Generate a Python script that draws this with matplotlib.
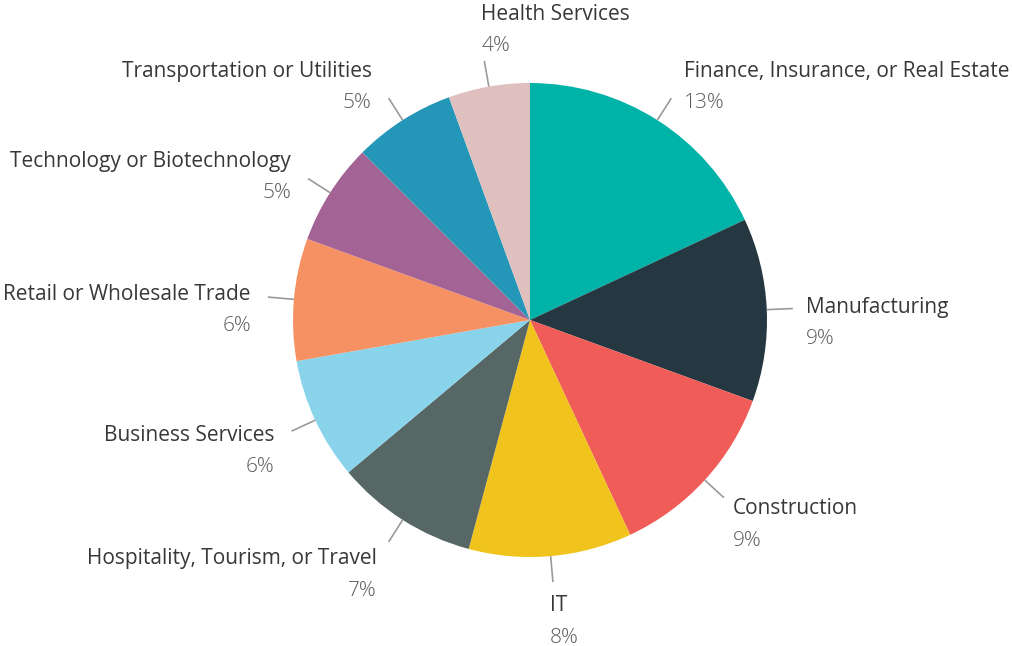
import numpy as np
import matplotlib
matplotlib.use('Agg')
import matplotlib.pyplot as plt

matplotlib.rcParams['font.family'] = ['Open Sans', 'DejaVu Sans']

# 行业分布（图上标注的百分比）
labels = ['Finance, Insurance, or Real Estate', 'Manufacturing', 'Construction', 'IT',
          'Hospitality, Tourism, or Travel', 'Business Services', 'Retail or Wholesale Trade',
          'Technology or Biotechnology', 'Transportation or Utilities', 'Health Services']
pcts = [13, 9, 9, 8, 7, 6, 6, 5, 5, 4]
colors = ['#00B3A8', '#253740', '#F05D58', '#F0C41C', '#566766',
          '#89D4EA', '#F69163', '#A36495', '#2496B8', '#DFC0BF']

W, H = 1013, 646
CX, CY, R = 530, 326, 237


def main():
    fig = plt.figure(figsize=(W / 100, H / 100), dpi=100)
    ax = fig.add_axes([0, 0, 1, 1])
    wedges, _ = ax.pie(pcts, colors=colors, startangle=90, counterclock=False,
                       center=(CX, CY), radius=R, wedgeprops=dict(linewidth=0))
    ax.set_xlim(0, W); ax.set_ylim(0, H); ax.set_aspect('equal')
    ax.axis('off')

    for w, name, p in zip(wedges, labels, pcts):
        ang = np.deg2rad((w.theta1 + w.theta2) / 2)
        c, s = np.cos(ang), np.sin(ang)
        x0, y0 = CX + R * c, CY + R * s
        x1, y1 = CX + R * 1.11 * c, CY + R * 1.11 * s
        ax.plot([x0, x1], [y0, y1], color='#9a9a9a', lw=1.2, solid_capstyle='butt')

        # 标签块位置：上方标签往上抬，下方标签往下压
        off = 32 * s if s > 0 else -24 * s * s
        if abs(c) < 0.25:
            ha, tx = 'left', x1 - 3
            if s > 0:
                off += 15
        elif c > 0:
            ha, tx = 'left', x1 + (13 if s > -0.5 else 9)
        else:
            ha, tx = 'right', x1 - (17 if s > -0.5 else 12)
        ny = y1 + off
        ax.text(tx, ny, name, ha=ha, va='center', fontsize=15, color='#383838')
        ax.text(tx, ny - 32, f'{p}%', ha=ha, va='center', fontsize=15,
                fontweight='light', color='#5c5c5c')

    fig.savefig('out.png', dpi=100, facecolor='white')
    plt.close(fig)


if __name__ == '__main__':
    main()
